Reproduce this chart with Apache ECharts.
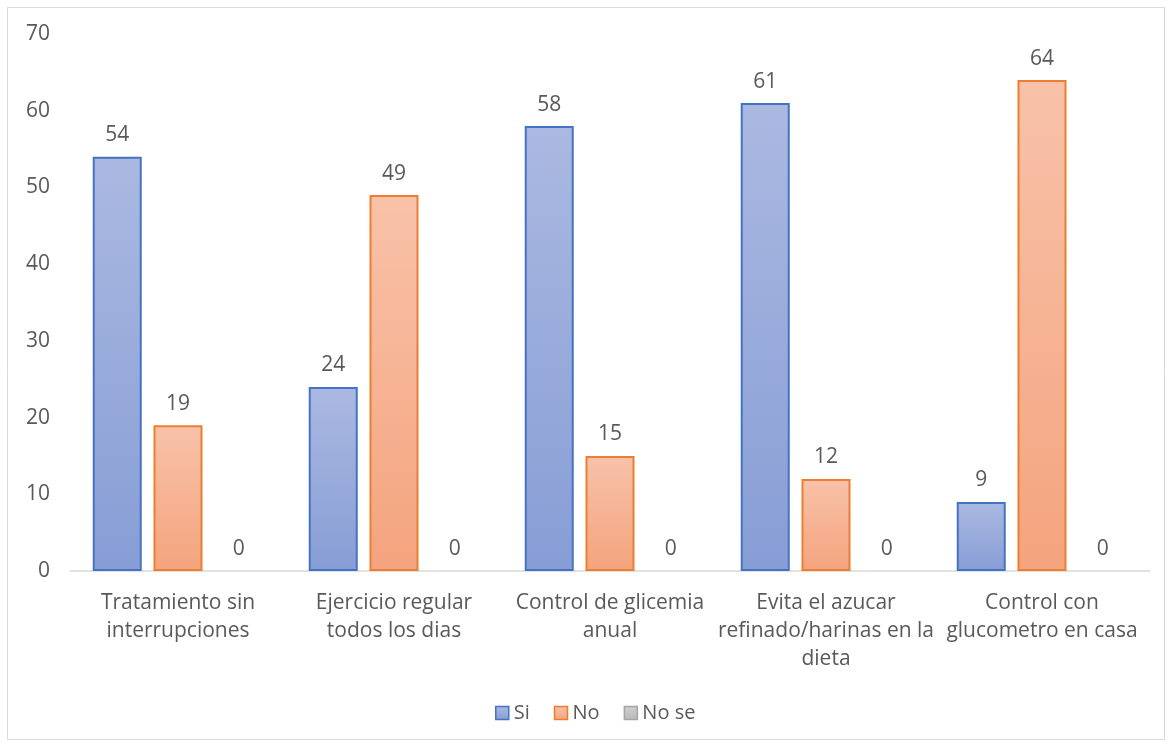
<!DOCTYPE html>
<html>
<head>
<meta charset="utf-8">
<script src="https://cdn.jsdelivr.net/npm/echarts@6/dist/echarts.min.js"></script>
<style>
  html, body { margin: 0; padding: 0; background: #ffffff; }
  #chart { width: 1171px; height: 744px; }
</style>
</head>
<body>
<div id="chart"></div>
<script>
// Practices reported by patients, grouped by answer
const categories = [
  'Tratamiento sin\ninterrupciones',
  'Ejercicio regular\ntodos los dias',
  'Control de glicemia\nanual',
  'Evita el azucar\nrefinado/harinas en la\ndieta',
  'Control con\nglucometro en casa'
];
const seriesNames = ['Si', 'No', 'No se'];
const siValues = [54, 24, 58, 61, 9];
const noValues = [19, 49, 15, 12, 64];
const noSeValues = [0, 0, 0, 0, 0];
const yTicks = { min: 0, max: 70, interval: 10 };

const FONT = '"Open Sans", "Noto Sans", sans-serif';
const TEXT = '#595959';

function grad(top, bottom) {
  return new echarts.graphic.LinearGradient(0, 0, 0, 1, [
    { offset: 0, color: top },
    { offset: 1, color: bottom }
  ]);
}

const styles = [
  { fill: grad('#abb9e1', '#879dd5'), border: '#4472c4', width: 2 },
  { fill: grad('#f8c2a9', '#f4a47e'), border: '#ed7d31', width: 2 },
  { fill: grad('#d0d0d0', '#b8b8b8'), border: '#a5a5a5', width: 0 }
];
const dataSets = [siValues, noValues, noSeValues];

const chart = echarts.init(document.getElementById('chart'));
chart.setOption({
  animation: false,
  textStyle: { fontFamily: FONT },
  graphic: [{
    type: 'rect',
    shape: { x: 7.5, y: 7.5, width: 1157, height: 732 },
    style: { fill: 'none', stroke: '#d9d9d9', lineWidth: 1 },
    silent: true
  }],
  grid: { left: 70, right: 21, top: 34, bottom: 173 },
  legend: {
    bottom: 16,
    left: 490,
    itemWidth: 13,
    itemHeight: 13,
    itemGap: 24,
    textStyle: { color: TEXT, fontSize: 20, fontFamily: FONT },
    data: seriesNames.map((n, i) => ({
      name: n,
      icon: 'rect',
      itemStyle: { color: styles[i].fill, borderColor: styles[i].border, borderWidth: 1.5 }
    }))
  },
  xAxis: {
    type: 'category',
    data: categories,
    axisLine: { lineStyle: { color: '#d9d9d9', width: 1.5 } },
    axisTick: { show: false },
    axisLabel: {
      color: TEXT, fontSize: 21, lineHeight: 28, margin: 18,
      interval: 0, fontFamily: FONT
    }
  },
  yAxis: {
    type: 'value',
    min: yTicks.min, max: yTicks.max, interval: yTicks.interval,
    axisLine: { show: false },
    axisTick: { show: false },
    splitLine: { show: false },
    axisLabel: { color: TEXT, fontSize: 21, margin: 20, fontFamily: FONT }
  },
  series: seriesNames.map((name, i) => ({
    name: name,
    type: 'bar',
    data: dataSets[i],
    barWidth: 49,
    barGap: '24%',
    itemStyle: { color: styles[i].fill, borderColor: styles[i].border, borderWidth: styles[i].width },
    label: {
      show: true, position: 'top', distance: 11,
      color: TEXT, fontSize: 21, fontFamily: FONT
    }
  }))
});
</script>
</body>
</html>
